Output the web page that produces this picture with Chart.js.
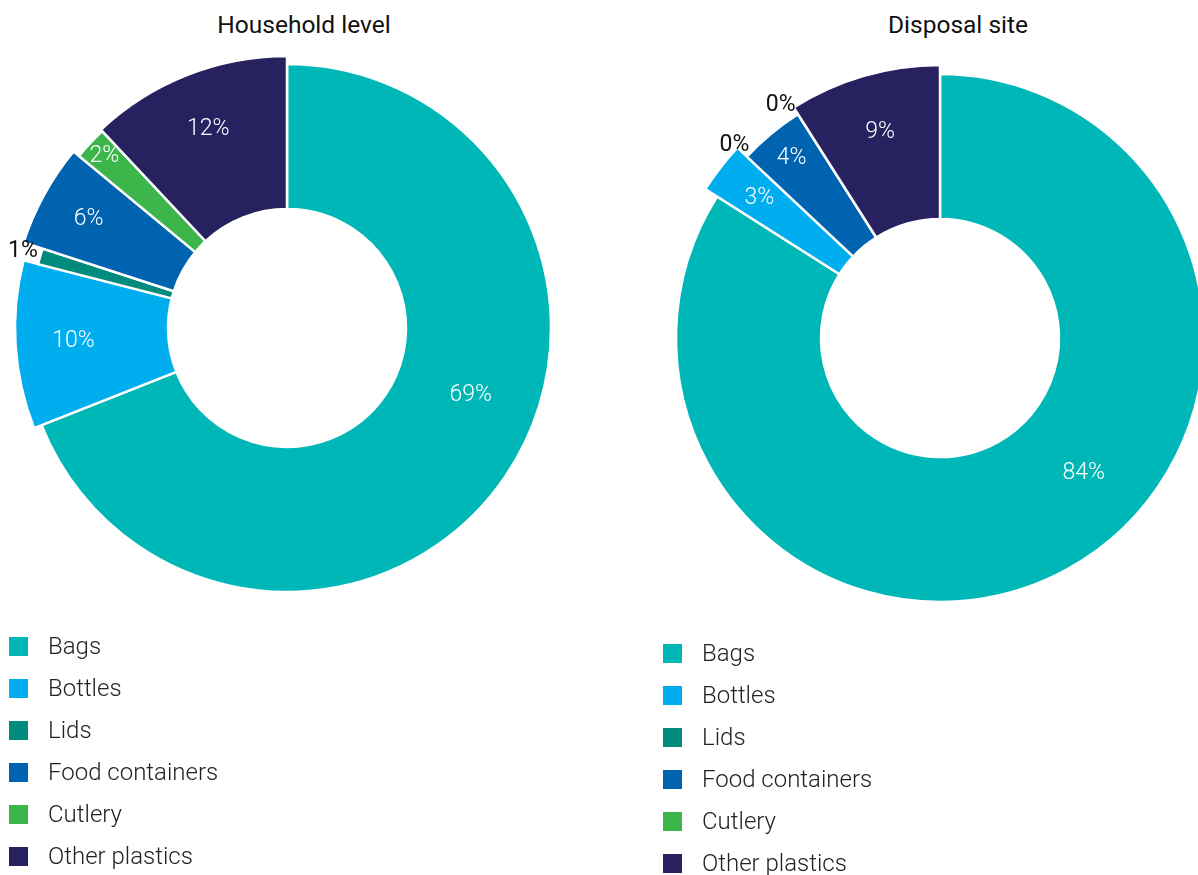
<!DOCTYPE html>
<html>
<head>
<meta charset="utf-8">
<script src="https://cdn.jsdelivr.net/npm/chart.js@4/dist/chart.umd.min.js"></script>
<style>
  html, body { margin: 0; padding: 0; background: #fff; }
  body { width: 1198px; height: 875px; overflow: hidden; position: relative; font-family: Roboto, "Noto Sans", sans-serif; }
  .panel-title { position: absolute; top: 10px; font-size: 24.5px; color: #111; white-space: nowrap; transform: translateX(-50%); }
  .chart-box { position: absolute; }
  .legend { position: absolute; }
  .legend-row { height: 42px; display: flex; align-items: center; font-size: 24px; font-weight: 300; color: #222; white-space: nowrap; }
  .legend-swatch { width: 19px; height: 19px; margin-right: 20px; flex: none; }
</style>
</head>
<body>
<div class="panel-title" id="title0" style="left:304px"></div>
<div class="panel-title" id="title1" style="left:958px"></div>
<div class="chart-box" style="left:-13px; top:28px; width:600px; height:600px"><canvas id="household" width="600" height="600"></canvas></div>
<div class="chart-box" style="left:640px; top:38px; width:600px; height:600px"><canvas id="disposal" width="600" height="600"></canvas></div>
<div class="legend" id="legend0" style="left:9px; top:625px"></div>
<div class="legend" id="legend1" style="left:663px; top:632px"></div>
<script>
// Plastic item categories, shared by both rings
const categories = ['Bags', 'Bottles', 'Lids', 'Food containers', 'Cutlery', 'Other plastics'];
// Share of plastic items (%) found in households
const householdShares = [69, 10, 1, 6, 2, 12];
// Share of plastic items (%) found at the disposal site
const disposalShares = [84, 3, 0, 4, 0, 9];
const panelTitles = ['Household level', 'Disposal site'];
const sliceColors = ['#00B7B8', '#00AEEF', '#008B7D', '#0063AF', '#3CB54A', '#27215F'];

const OUTER = 264;   // common outer radius, px
const INNER = 119;   // hole radius, px

// Lets each slice reach out a few pixels beyond the common outer edge
const ringShape = {
  id: 'ringShape',
  afterDatasetUpdate(chart, args, opts) {
    const extra = opts.extend || [];
    args.meta.data.forEach((arc, i) => { arc.outerRadius += (extra[i] || 0); });
  }
};

// Percentage labels: white inside each slice, dark just outside for tiny shares
const shareLabels = {
  id: 'shareLabels',
  afterDatasetsDraw(chart, args, opts) {
    const meta = chart.getDatasetMeta(0);
    const values = chart.data.datasets[0].data;
    const ctx = chart.ctx;
    const tune = opts.tune || {};
    ctx.save();
    ctx.textAlign = 'center';
    ctx.textBaseline = 'middle';
    meta.data.forEach((arc, i) => {
      const v = values[i];
      const t = tune[i] || {};
      const outside = v <= opts.outsideMax;
      const mid = (arc.startAngle + arc.endAngle) / 2 + (t.turn || 0) * Math.PI / 180;
      const reach = t.reach != null ? t.reach : opts.reach;
      const r = outside ? arc.outerRadius + opts.outsideGap
                        : arc.innerRadius + (arc.outerRadius - arc.innerRadius) * reach;
      ctx.font = outside ? opts.outsideFont : opts.font;
      ctx.fillStyle = outside ? opts.outsideColor : opts.color;
      ctx.fillText(v + '%', arc.x + Math.cos(mid) * r, arc.y + Math.sin(mid) * r);
    });
    ctx.restore();
  }
};

function drawRing(canvasId, shares, extend, tune) {
  return new Chart(document.getElementById(canvasId), {
    type: 'doughnut',
    data: {
      labels: categories,
      datasets: [{
        data: shares,
        backgroundColor: sliceColors,
        borderColor: '#ffffff',
        borderWidth: 2.5
      }]
    },
    options: {
      responsive: false,
      animation: false,
      events: [],
      radius: OUTER,
      cutout: (INNER / OUTER * 100) + '%',
      layout: { padding: 0 },
      plugins: {
        legend: { display: false },
        tooltip: { enabled: false },
        ringShape: { extend: extend },
        shareLabels: {
          font: '300 23px Roboto',
          outsideFont: '400 23px Roboto',
          color: '#ffffff',
          outsideColor: '#111111',
          outsideMax: 1,
          outsideGap: 18,
          reach: 0.62,
          tune: tune
        }
      }
    },
    plugins: [ringShape, shareLabels]
  });
}

drawRing('household', householdShares, [0, 8, -7, 13, 6, 8],
  { 0: { turn: -14, reach: 0.53 }, 3: { reach: 0.68 }, 4: { reach: 0.87 } });
drawRing('disposal', disposalShares, [0, 14, 0, 1, 0, 9],
  { 0: { turn: -18, reach: 0.54 }, 1: { reach: 0.69 }, 3: { reach: 0.78 }, 4: { turn: -2 } });

panelTitles.forEach((t, k) => { document.getElementById('title' + k).textContent = t; });

// Vertical legends listing the categories with their colour swatches
[0, 1].forEach(k => {
  const box = document.getElementById('legend' + k);
  categories.forEach((name, i) => {
    const row = document.createElement('div');
    row.className = 'legend-row';
    const sw = document.createElement('span');
    sw.className = 'legend-swatch';
    sw.style.background = sliceColors[i];
    const txt = document.createElement('span');
    txt.textContent = name;
    row.appendChild(sw);
    row.appendChild(txt);
    box.appendChild(row);
  });
});
</script>
</body>
</html>
